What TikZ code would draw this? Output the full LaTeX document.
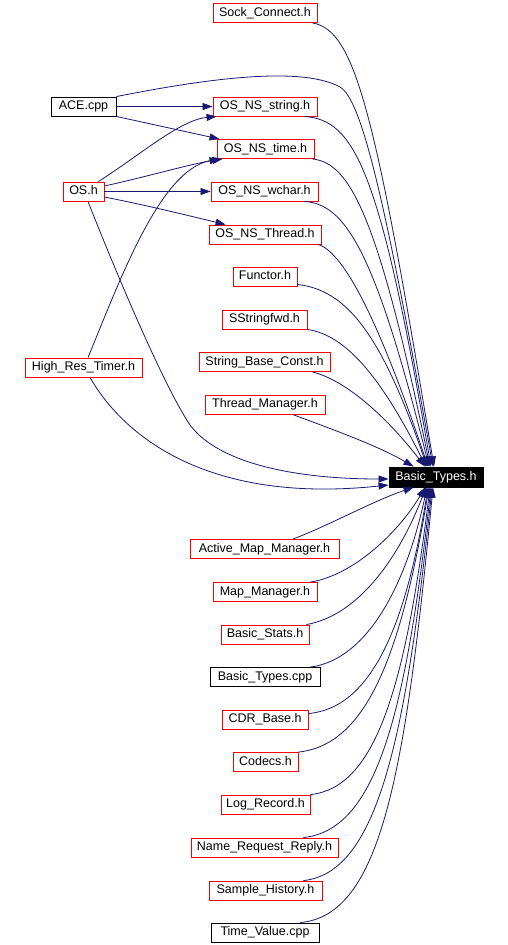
\documentclass[tikz,border=0pt]{standalone}
\usepackage{fontspec}
\setmainfont{Liberation Sans}
\usetikzlibrary{arrows.meta,calc}
\definecolor{edgec}{HTML}{191970}
\begin{document}
\begin{tikzpicture}[x=1pt,y=-1pt,
  box/.style={draw=red, line width=0.9pt, minimum height=19pt, inner xsep=5pt, inner ysep=0pt,
    font=\fontsize{12.5}{14}\selectfont, text height=9pt, text depth=2.6pt},
  blk/.style={box, draw=black},
  cur/.style={box, draw=black, fill=black, text=white, minimum height=20pt},
  e/.style={draw=edgec, line width=0.8pt, -{Triangle[length=10pt,width=7pt]}}]
\fill[white] (0,0) rectangle (508,945);
\useasboundingbox (0,0) rectangle (508,945);

% nodes
\node[box, minimum width=104pt] (sock) at (265,13) {Sock\_Connect.h};
\node[blk, minimum width=65pt] (ace) at (83.5,106.5) {ACE.cpp};
\node[box, minimum width=104pt] (str) at (265,106.5) {OS\_NS\_string.h};
\node[box, minimum width=97pt] (time) at (265.5,149) {OS\_NS\_time.h};
\node[box, minimum width=41pt] (os) at (83.5,191.5) {OS.h};
\node[box, minimum width=107pt] (wchar) at (264.5,191.5) {OS\_NS\_wchar.h};
\node[box, minimum width=112pt] (thr) at (265,234.5) {OS\_NS\_Thread.h};
\node[box, minimum width=64pt] (func) at (265,276.5) {Functor.h};
\node[box, minimum width=85pt] (sstr) at (264.5,319.5) {SStringfwd.h};
\node[box, minimum width=131pt] (sbc) at (264.5,362) {String\_Base\_Const.h};
\node[box, minimum width=120pt] (tm) at (265,404.5) {Thread\_Manager.h};
\node[box, minimum width=117pt] (hrt) at (83.5,367.5) {High\_Res\_Timer.h};
\node[cur, minimum width=94pt] (bt) at (436,477) {Basic\_Types.h};
\node[box, minimum width=149pt] (amm) at (264.5,549) {Active\_Map\_Manager.h};
\node[box, minimum width=104pt] (mm) at (265,592) {Map\_Manager.h};
\node[box, minimum width=88pt] (bs) at (265,634.5) {Basic\_Stats.h};
\node[blk, minimum width=110pt] (btc) at (265,677) {Basic\_Types.cpp};
\node[box, minimum width=86pt] (cdr) at (265,719.5) {CDR\_Base.h};
\node[box, minimum width=65pt] (cod) at (265.5,762) {Codecs.h};
\node[box, minimum width=89pt] (log) at (265.5,804.5) {Log\_Record.h};
\node[box, minimum width=147pt] (nrr) at (264.5,847.5) {Name\_Request\_Reply.h};
\node[box, minimum width=113pt] (sh) at (265.5,890.5) {Sample\_History.h};
\node[blk, minimum width=108pt] (tv) at (265,932.5) {Time\_Value.cpp};

% edges among upper nodes
\path[e] (ace.east) -- (str.west);
\path[e] (ace.south east) -- ($(time.north west)+(3,0)$);
\path[e] ($(os.north east)+(-6,0)$) .. controls (140,155) and (180,120) .. ($(str.south west)+(4,0)$);
\path[e] ($(os.east)+(0,-5.5)$) .. controls (150,176) and (190,164) .. ($(time.south west)+(6,0)$);
\path[e] (os.east) -- (wchar.west);
\path[e] ($(os.east)+(0,5.5)$) .. controls (150,206) and (190,216) .. ($(thr.north west)+(17,0)$);
\path[e] ($(hrt.north)+(4.5,0)$) .. controls (120,280) and (160,170) .. ($(time.south west)+(3,0)$);

% edges into Basic_Types.h from above
\path[e] ($(sock.south east)+(-5,0)$) .. controls (355,30) and (375,110) .. ($(bt.north)+(-2,0)$);
\path[e] (ace.north east) .. controls (200,80) and (300,65) .. (340,87)
   .. controls (362,100) and (385,200) .. ($(bt.north)+(-3,0)$);
\path[e] ($(str.south east)+(-13,0)$) .. controls (355,120) and (380,170) .. ($(bt.north)+(-5,0)$);
\path[e] ($(time.south east)+(-2,0)$) .. controls (350,163) and (378,215) .. ($(bt.north)+(-6,0)$);
\path[e] ($(wchar.south east)+(-14,0)$) .. controls (345,204) and (375,250) .. ($(bt.north)+(-7,0)$);
\path[e] ($(thr.south east)+(-3,0)$) .. controls (340,252) and (372,300) .. ($(bt.north)+(-8,0)$);
\path[e] ($(func.south east)+(0,-2)$) .. controls (345,290) and (380,330) .. ($(bt.north)+(-9,0)$);
\path[e] (sstr.south east) .. controls (345,335) and (380,375) .. ($(bt.north)+(-10,0)$);
\path[e] ($(sbc.south east)+(-18,0)$) .. controls (345,380) and (385,415) .. ($(bt.north)+(-11,0)$);
\path[e] ($(tm.south east)+(-33,0)$) .. controls (340,432) and (380,447) .. ($(bt.north west)+(25,0)$);

% edges into Basic_Types.h from the left
\path[e] ($(os.south)+(4.5,0)$) .. controls (105,245) and (160,380) .. (190,425)
   .. controls (220,465) and (300,479) .. ($(bt.west)+(0,2)$);
\path[e] ($(hrt.south)+(6.5,0)$) .. controls (120,430) and (200,505) .. ($(bt.west)+(0,8)$);

% edges into Basic_Types.h from below
\path[e] ($(amm.north)+(28.5,0)$) .. controls (330,525) and (375,500) .. ($(bt.south west)+(25,0)$);
\path[e] ($(mm.north east)+(-7,0)$) .. controls (355,575) and (400,530) .. ($(bt.south)+(-11,0)$);
\path[e] ($(bs.north east)+(-3,0)$) .. controls (360,615) and (400,555) .. ($(bt.south)+(-10,0)$);
\path[e] ($(btc.north east)+(-10,0)$) .. controls (365,660) and (405,590) .. ($(bt.south)+(-9,0)$);
\path[e] ($(cdr.north east)+(0,4)$) .. controls (370,708) and (405,630) .. ($(bt.south)+(-8,0)$);
\path[e] (cod.north east) .. controls (365,745) and (400,660) .. ($(bt.south)+(-7,0)$);
\path[e] (log.north east) .. controls (375,788) and (405,690) .. ($(bt.south)+(-6,0)$);
\path[e] ($(nrr.north east)+(-35,0)$) .. controls (375,830) and (405,720) .. ($(bt.south)+(-5,0)$);
\path[e] ($(sh.north east)+(-19,0)$) .. controls (375,873) and (405,750) .. ($(bt.south)+(-4,0)$);
\path[e] ($(tv.north east)+(-19,0)$) .. controls (380,915) and (405,780) .. ($(bt.south)+(-3,0)$);
\end{tikzpicture}
\end{document}
